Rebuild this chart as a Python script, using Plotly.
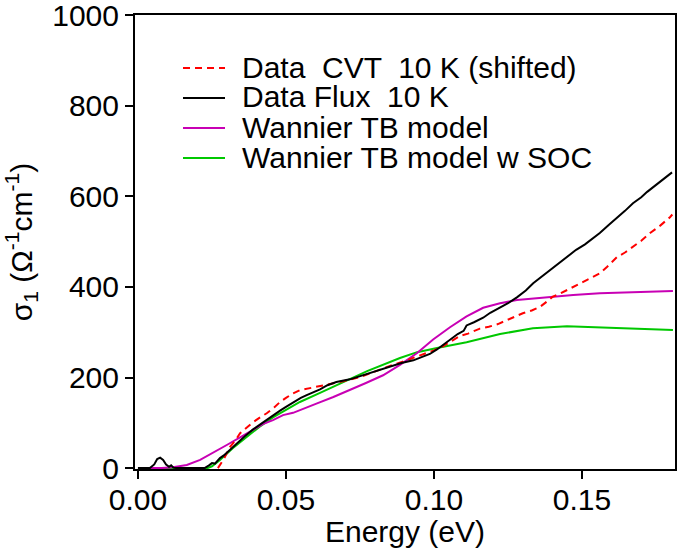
import plotly.graph_objects as go

# ---------------- data ----------------
flux_E = [0.000, 0.004, 0.0055, 0.0065, 0.0075, 0.0085, 0.0095, 0.0105, 0.0112, 0.0120, 0.013,
          0.0225, 0.024, 0.025, 0.026, 0.0277, 0.029, 0.031, 0.0325, 0.0345, 0.036, 0.039, 0.041,
          0.0435, 0.046, 0.048, 0.050, 0.0525, 0.055, 0.057, 0.0595, 0.0615, 0.064, 0.067, 0.0716,
          0.075, 0.0794, 0.083, 0.086, 0.089, 0.093, 0.0965, 0.0986, 0.101, 0.103, 0.106, 0.108,
          0.110, 0.111, 0.1135, 0.1166, 0.119, 0.122, 0.125, 0.128, 0.131, 0.1335, 0.1358, 0.139,
          0.1415, 0.1449, 0.148, 0.151, 0.153, 0.156, 0.159, 0.162, 0.1645, 0.1672, 0.170, 0.172,
          0.174, 0.177, 0.1804]
flux_sigma = [0, 0, 8, 20, 23, 18, 8, 3, 6, 1, 0,
              0, 6, 11, 10, 22, 28, 40, 48, 62, 70, 86, 95,
              108, 118, 127, 135, 146, 155, 161, 168, 174, 183, 190, 196,
              203, 212, 220, 227, 232, 238, 246, 252, 262, 272, 285, 296,
              303, 315, 322, 332, 343, 353, 364, 377, 392, 408, 420, 435,
              450, 466, 482, 494, 504, 519, 537, 553, 568, 585, 598, 610,
              620, 636, 653]

cvt_E = [0.027, 0.029, 0.031, 0.033, 0.0345, 0.037, 0.039, 0.0415, 0.0435, 0.046, 0.048, 0.050,
         0.0524, 0.0547, 0.057, 0.0605, 0.064, 0.067, 0.071, 0.075, 0.079, 0.0828, 0.0865, 0.0895,
         0.0909, 0.0953, 0.0976, 0.100, 0.103, 0.106, 0.1088, 0.1115, 0.1155, 0.1185, 0.1216,
         0.1247, 0.127, 0.130, 0.133, 0.1358, 0.138, 0.140, 0.1425, 0.145, 0.1493, 0.1537, 0.156,
         0.1584, 0.1618, 0.1645, 0.1672, 0.170, 0.173, 0.1765, 0.1797, 0.1805]
cvt_sigma = [0, 20, 46, 62, 77, 92, 102, 113, 121, 134, 146, 155,
             165, 172, 175, 179, 184, 188, 194, 201, 210, 220, 229, 234,
             238, 249, 254, 260, 269, 280, 292, 297, 308, 312, 318,
             327, 333, 342, 348, 356, 367, 378, 385, 393, 408, 422, 430,
             444, 466, 476, 488, 502, 519, 536, 554, 560]

tb_E = [0.000, 0.008, 0.0118, 0.0165, 0.021, 0.0253, 0.030, 0.0345, 0.039, 0.0422, 0.0456, 0.049,
        0.0524, 0.0565, 0.0605, 0.066, 0.0716, 0.077, 0.0828, 0.0885, 0.0943, 0.0997, 0.1054,
        0.111, 0.1166, 0.1223, 0.128, 0.134, 0.139, 0.147, 0.156, 0.1672, 0.1807]
tb_sigma = [0, 0, 2, 7, 18, 33, 51, 68, 84, 97, 106, 117,
            122, 132, 143, 157, 172, 188, 205, 228, 254, 284, 311,
            335, 354, 364, 371, 375, 378, 382, 386, 389, 391]

soc_E = [0.000, 0.0235, 0.025, 0.0277, 0.032, 0.0368, 0.041, 0.0456, 0.0524, 0.0547, 0.0615,
         0.066, 0.0774, 0.0885, 0.0943, 0.101, 0.111, 0.1223, 0.1334, 0.1449, 0.156, 0.1672, 0.1807]
soc_sigma = [0, 0, 4, 18, 44, 69, 91, 112, 138, 146, 166,
             180, 214, 243, 256, 265, 278, 296, 309, 313, 311, 309, 305]

x_ticks = [0.00, 0.05, 0.10, 0.15]
x_tick_labels = ["0.00", "0.05", "0.10", "0.15"]
y_ticks = [0, 200, 400, 600, 800, 1000]

legend_labels = ["Data  CVT  10 K (shifted)", "Data Flux  10 K",
                 "Wannier TB model", "Wannier TB model w SOC"]
colors = ["#FF0000", "#000000", "#C800B4", "#00C800"]
dashes = ["7px,5px", "solid", "solid", "solid"]

FONT = "Liberation Sans, Arial, Helvetica, sans-serif"
FS = 30

fig = go.Figure()
series = [(cvt_E, cvt_sigma), (flux_E, flux_sigma), (tb_E, tb_sigma), (soc_E, soc_sigma)]
order = [3, 2, 0, 1]  # draw order: green, magenta, red, black
for i in order:
    xs, ys = series[i]
    fig.add_trace(go.Scatter(x=xs, y=ys, mode="lines", name=legend_labels[i],
                             line=dict(color=colors[i], width=2, dash=dashes[i]),
                             showlegend=False))

# custom legend (tight spacing as in reference)
W, H = 677, 548
L, R, T, B = 135, 2, 15, 79
pw, ph = W - L - R, H - T - B
def px_x(p):
    return (p - L) / pw
def px_y(p):
    return (H - B - p) / ph

row_y = [68, 98, 128, 158]
for i, lbl in enumerate(legend_labels):
    fig.add_shape(type="line", xref="paper", yref="paper",
                  x0=px_x(183), x1=px_x(225), y0=px_y(row_y[i]), y1=px_y(row_y[i]),
                  line=dict(color=colors[i], width=2, dash=dashes[i]))
    fig.add_annotation(text=lbl, xref="paper", yref="paper", x=px_x(240), y=px_y(row_y[i] - 1),
                       xanchor="left", yanchor="middle", showarrow=False,
                       font=dict(family=FONT, size=FS, color="black"))

fig.update_layout(
    width=W, height=H,
    margin=dict(l=L, r=R, t=T, b=B, pad=0, autoexpand=False),
    paper_bgcolor="white", plot_bgcolor="white",
    font=dict(family=FONT, size=FS, color="black"),
    showlegend=False,
)
fig.update_xaxes(range=[-0.001, 0.1814], tickvals=x_ticks, ticktext=x_tick_labels,
                 ticks="outside", ticklen=8, tickwidth=1.5, tickcolor="black",
                 ticklabelstandoff=-5,
                 showline=True, linewidth=2, linecolor="black", mirror=True,
                 showgrid=False, zeroline=False, automargin=False,
                 title=dict(text="Energy (eV)", font=dict(size=FS), standoff=2),
                 tickfont=dict(size=FS))
fig.update_yaxes(range=[-2, 1000.5], tickvals=y_ticks,
                 ticks="outside", ticklen=8, tickwidth=1.5, tickcolor="black",
                 ticklabeloverflow="allow",
                 showline=True, linewidth=2, linecolor="black", mirror=True,
                 showgrid=False, zeroline=False, automargin=False,
                 title=dict(text="σ<sub>1</sub> (Ω<sup>-1</sup>cm<sup>-1</sup>)", font=dict(size=FS), standoff=22),
                 tickfont=dict(size=FS))

fig.write_html(
    "out.html",
    config={"displayModeBar": False},
    post_script="document.body.style.margin='0px';document.body.style.padding='0px';"
                "document.documentElement.style.overflow='hidden';",
)
